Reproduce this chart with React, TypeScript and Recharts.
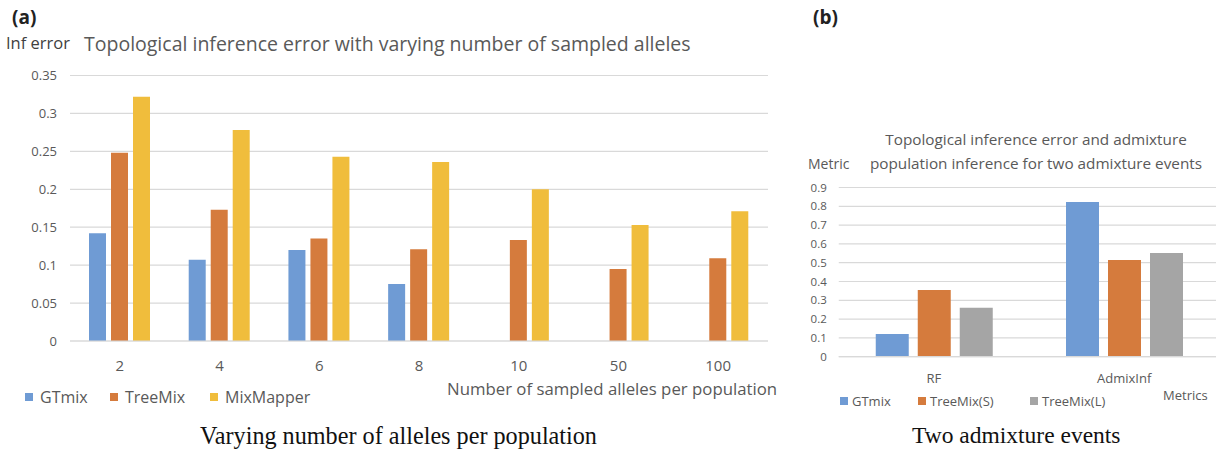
import { Bar, BarChart, CartesianGrid, XAxis, YAxis } from "recharts";

// panel (a)
const alleleCats = ["2", "4", "6", "8", "10", "50", "100"];
const gtmixA = [0.142, 0.107, 0.12, 0.075, 0, 0, 0];
const treemixA = [0.248, 0.173, 0.135, 0.121, 0.133, 0.095, 0.109];
const mixmapperA = [0.322, 0.278, 0.243, 0.236, 0.2, 0.153, 0.171];
const ticksA = [0, 0.05, 0.1, 0.15, 0.2, 0.25, 0.3, 0.35];

// panel (b)
const metricCats = ["RF", "AdmixInf"];
const gtmixB = [0.121, 0.823];
const treemixS = [0.355, 0.514];
const treemixL = [0.261, 0.552];
const ticksB = [0, 0.1, 0.2, 0.3, 0.4, 0.5, 0.6, 0.7, 0.8, 0.9];

const BLUE = "#6f9bd4";
const ORANGE = "#d57b3d";
const YELLOW = "#f0bd3c";
const GRAY = "#a5a5a5";
const TEXT = "#595959";
const GRID = "#d9d9d9";
const FONT = "'Open Sans', Lato, sans-serif";
const SERIF = "'Liberation Serif', 'DejaVu Serif', serif";

const seriesA = [
  { key: "gtmix", name: "GTmix", color: BLUE, values: gtmixA },
  { key: "treemix", name: "TreeMix", color: ORANGE, values: treemixA },
  { key: "mixmapper", name: "MixMapper", color: YELLOW, values: mixmapperA },
];
const seriesB = [
  { key: "gtmix", name: "GTmix", color: BLUE, values: gtmixB },
  { key: "treemixS", name: "TreeMix(S)", color: ORANGE, values: treemixS },
  { key: "treemixL", name: "TreeMix(L)", color: GRAY, values: treemixL },
];

const dataA = alleleCats.map((cat, i) => {
  const row: Record<string, number | string> = { cat };
  seriesA.forEach((s) => (row[s.key] = s.values[i]));
  return row;
});
const dataB = metricCats.map((cat, i) => {
  const row: Record<string, number | string> = { cat };
  seriesB.forEach((s) => (row[s.key] = s.values[i]));
  return row;
});

// legend item x positions (page px)
const legendA = [25, 110, 210];
const legendB = [840, 918, 1030];

function Txt({
  x,
  y,
  size,
  children,
  color = TEXT,
  weight = 400,
  family = FONT,
}: {
  x: number;
  y: number;
  size: number;
  children: React.ReactNode;
  color?: string;
  weight?: number;
  family?: string;
}) {
  return (
    <div
      style={{
        position: "absolute",
        left: x,
        top: y,
        fontSize: size,
        lineHeight: 1,
        color,
        fontWeight: weight,
        fontFamily: family,
        whiteSpace: "nowrap",
      }}
    >
      {children}
    </div>
  );
}

export default function App() {
  return (
    <div
      style={{
        position: "absolute",
        left: 0,
        top: 0,
        width: 1216,
        height: 453,
        overflow: "hidden",
        background: "#fff",
        fontFamily: FONT,
      }}
    >
      <div style={{ position: "absolute", left: 0, top: 0 }}>
        <BarChart
          width={800}
          height={453}
          data={dataA}
          margin={{ top: 75.5, right: 32, bottom: 82, left: 0 }}
          barSize={17}
          barGap={5}
        >
          <CartesianGrid vertical={false} stroke={GRID} strokeWidth={1.2} />
          <XAxis
            dataKey="cat"
            height={30}
            tickLine={false}
            tickSize={0}
            tickMargin={19}
            interval={0}
            axisLine={{ stroke: GRID, strokeWidth: 1.2 }}
            tick={{ fill: TEXT, fontSize: 15, fontFamily: FONT }}
          />
          <YAxis
            width={70}
            domain={[0, 0.35]}
            ticks={ticksA}
            interval={0}
            tickLine={false}
            axisLine={false}
            tickSize={0}
            tickMargin={13}
            tick={{ fill: TEXT, fontSize: 13, fontFamily: FONT }}
          />
          {seriesA.map((s) => (
            <Bar key={s.key} dataKey={s.key} name={s.name} fill={s.color} isAnimationActive={false} />
          ))}
        </BarChart>
      </div>

      <div style={{ position: "absolute", left: 800, top: 0 }}>
        <BarChart
          width={420}
          height={453}
          data={dataB}
          margin={{ top: 187.5, right: 0.75, bottom: 66.3, left: 0 }}
          barSize={33}
          barGap={9}
        >
          <CartesianGrid vertical={false} stroke={GRID} strokeWidth={1.2} />
          <XAxis
            dataKey="cat"
            height={30}
            tickLine={false}
            tickSize={0}
            tickMargin={17}
            interval={0}
            axisLine={{ stroke: GRID, strokeWidth: 1.2 }}
            tick={{ fill: TEXT, fontSize: 13, fontFamily: FONT }}
          />
          <YAxis
            width={38.75}
            domain={[0, 0.9]}
            ticks={ticksB}
            interval={0}
            tickLine={false}
            axisLine={false}
            tickSize={0}
            tickMargin={12}
            tick={{ fill: TEXT, fontSize: 11.5, fontFamily: FONT }}
          />
          {seriesB.map((s) => (
            <Bar key={s.key} dataKey={s.key} name={s.name} fill={s.color} isAnimationActive={false} />
          ))}
        </BarChart>
      </div>

      {/* panel (a) texts */}
      <Txt x={12} y={8} size={19} weight={700} color="#222">(a)</Txt>
      <Txt x={6} y={35} size={16.5} color="#404040">Inf error</Txt>
      <Txt x={84} y={33.5} size={19.5}>Topological inference error with varying number of sampled alleles</Txt>
      <Txt x={447} y={381} size={16.8}>Number of sampled alleles per population</Txt>
      {seriesA.map((s, i) => (
        <div
          key={s.key}
          style={{
            position: "absolute",
            left: legendA[i],
            top: 388,
            display: "flex",
            alignItems: "center",
            fontSize: 16,
            color: TEXT,
            lineHeight: "18px",
          }}
        >
          <span style={{ width: 8, height: 8, background: s.color, marginRight: 7, display: "inline-block" }} />
          {s.name}
        </div>
      ))}
      <Txt x={200} y={424} size={24.2} family={SERIF} color="#111">
        Varying number of alleles per population
      </Txt>

      {/* panel (b) texts */}
      <Txt x={813} y={8} size={19} weight={700} color="#222">(b)</Txt>
      <div
        style={{
          position: "absolute",
          left: 836,
          top: 127,
          width: 400,
          textAlign: "center",
          fontSize: 15.3,
          lineHeight: "24px",
          color: TEXT,
        }}
      >
        Topological inference error and admixture
        <br />
        population inference for two admixture events
      </div>
      <Txt x={808} y={157} size={14}>Metric</Txt>
      <Txt x={1163} y={389} size={13}>Metrics</Txt>
      {seriesB.map((s, i) => (
        <div
          key={s.key}
          style={{
            position: "absolute",
            left: legendB[i],
            top: 393,
            display: "flex",
            alignItems: "center",
            fontSize: 13,
            color: TEXT,
            lineHeight: "16px",
          }}
        >
          <span style={{ width: 8, height: 8, background: s.color, marginRight: 4, display: "inline-block" }} />
          {s.name}
        </div>
      ))}
      <Txt x={912} y={424} size={23.5} family={SERIF} color="#111">
        Two admixture events
      </Txt>
    </div>
  );
}
